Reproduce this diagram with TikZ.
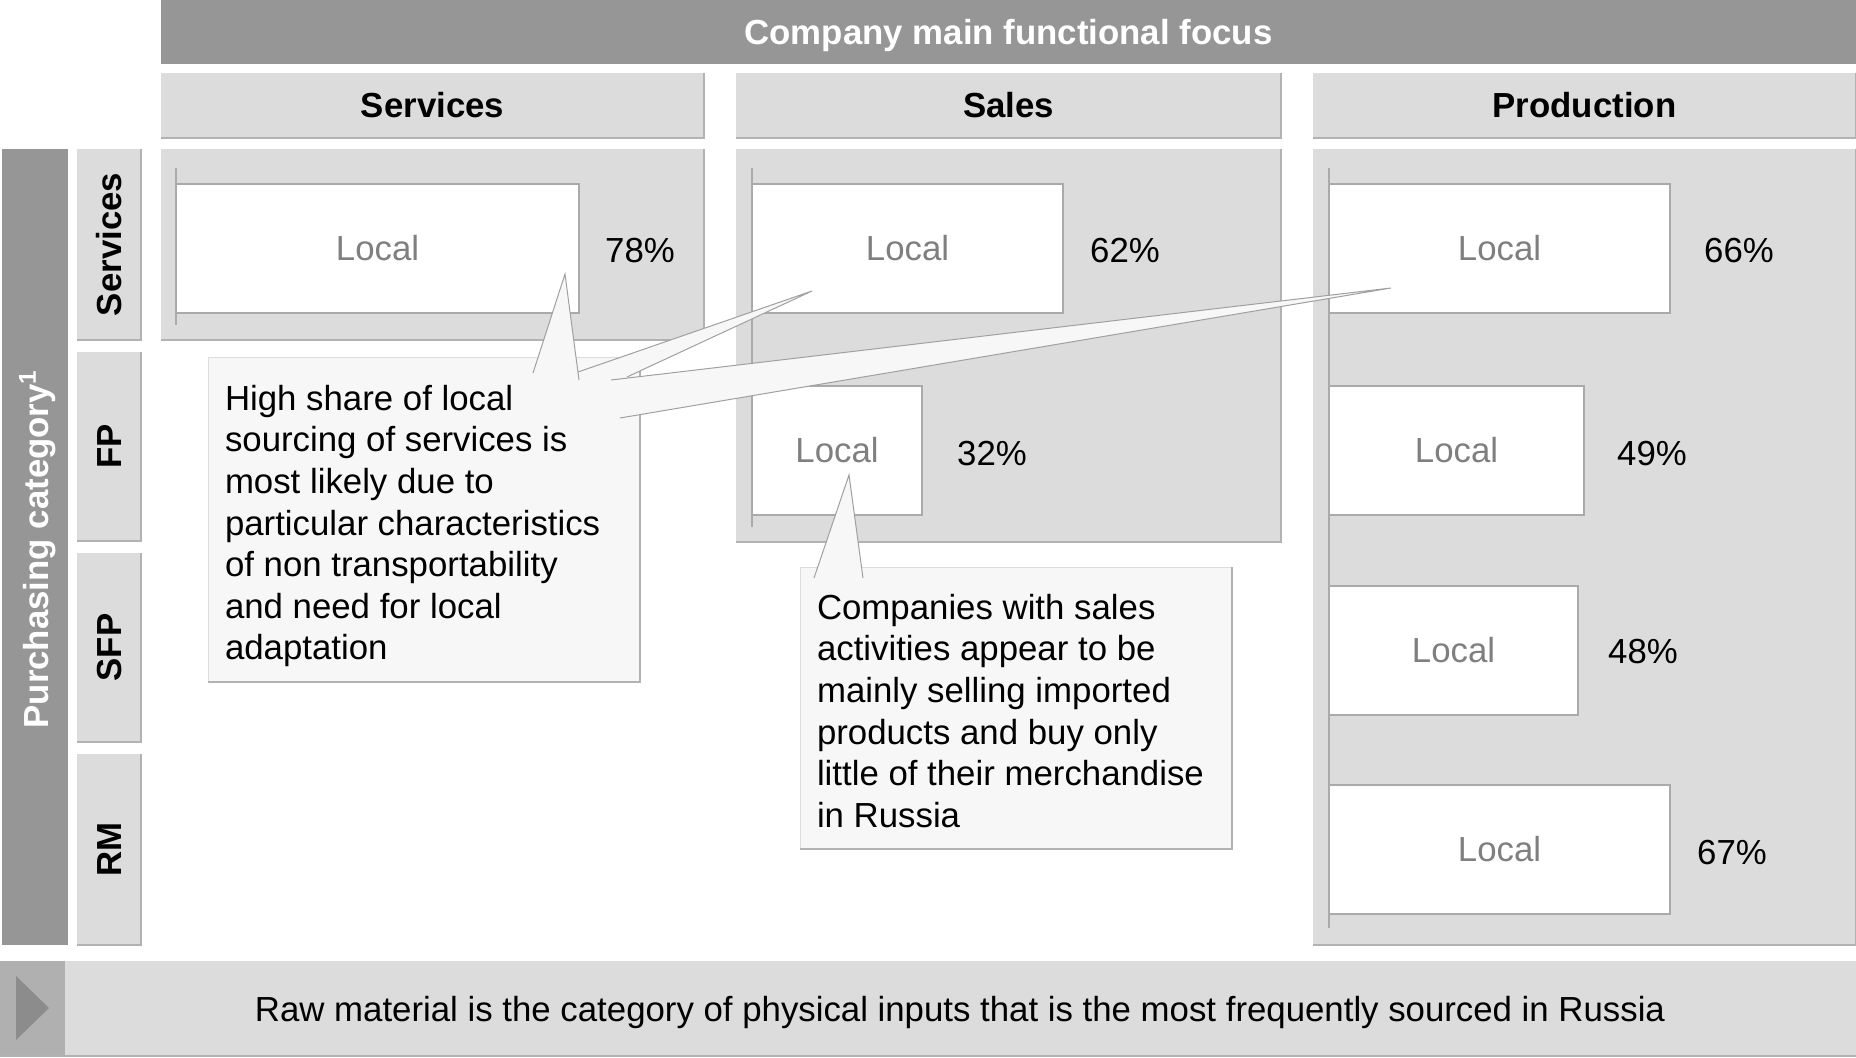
\documentclass[tikz,border=0pt]{standalone}
\usepackage{fontspec}
\setmainfont{Liberation Sans}
\definecolor{hdr}{HTML}{969696}
\definecolor{lgr}{HTML}{DCDCDC}
\definecolor{edgec}{HTML}{B2B2B2}
\definecolor{bord}{HTML}{AAAAAA}
\definecolor{callfill}{HTML}{F7F7F7}
\definecolor{loc}{HTML}{7F7F7F}
\definecolor{sqr}{HTML}{B0B0B0}
\definecolor{tri}{HTML}{8C8C8C}
\definecolor{wedgec}{HTML}{A0A0A0}
\newcommand\bx[7]{\node[#6, minimum width={(#4-#2)*0.5pt}, minimum height={(#5-#3)*0.5pt}] (#1) at ({(#2+#4)/2},{(#3+#5)/2}) {#7};}
\begin{document}
\begin{tikzpicture}[x=0.5pt,y=-0.5pt,
  font=\fontsize{17.4}{20.8}\selectfont,
  every node/.style={inner sep=0pt, outer sep=0pt},
  capc/.style={text height=12.4pt, text depth=0pt},
  hdrbox/.style={fill=hdr, text=white, capc, font=\fontsize{17.4}{20.8}\selectfont\bfseries},
  colbox/.style={fill=lgr, capc, font=\fontsize{17.4}{20.8}\selectfont\bfseries},
  greybox/.style={fill=lgr},
  barbox/.style={fill=white, draw=bord, line width=0.6pt, text=loc, capc},
  callbox/.style={fill=callfill, draw=lgr, line width=0.4pt},
  shadowline/.style={draw=edgec, line width=0.8pt},
  axisline/.style={draw=bord, line width=0.6pt},
  wedgeline/.style={draw=wedgec, line width=0.5pt},
  pct/.style={text=black, capc},
  vlabel/.style={rotate=90, capc, font=\fontsize{17.4}{20.8}\selectfont\bfseries}
]
\useasboundingbox (0,0) rectangle (1856,1058);

% top header
\bx{top}{161}{0}{1856}{64}{hdrbox}{Company main functional focus}
% column headers
\bx{chS}{161}{73}{704}{138}{colbox}{Services}
\bx{chA}{736}{73}{1281}{138}{colbox}{Sales}
\bx{chP}{1313}{73}{1856}{138}{colbox}{Production}

% left purchasing category bar
\bx{pc}{2}{149}{68}{945}{fill=hdr}{}
\node[vlabel, text=white] (pctext) at (36,549) {Purchasing category\textsuperscript{1}};

% row labels
\bx{rS}{77}{149}{141}{340}{greybox}{}
\bx{rF}{77}{352}{141}{541}{greybox}{}
\bx{rSF}{77}{553}{141}{742}{greybox}{}
\bx{rR}{77}{754}{141}{945}{greybox}{}
\node[vlabel] (rStext) at (rS) {Services};
\node[vlabel] (rFtext) at (rF) {FP};
\node[vlabel] (rSFtext) at (rSF) {SFP};
\node[vlabel] (rRtext) at (rR) {RM};

% data regions
\bx{dS}{161}{149}{704}{340}{greybox}{}
\bx{dA}{736}{149}{1281}{542}{greybox}{}
\bx{dP}{1313}{149}{1856}{945}{greybox}{}

% bottom bar
\bx{bot}{0}{961}{1856}{1056}{greybox}{}
\bx{botsq}{0}{961}{65}{1056}{fill=sqr}{}
\fill[tri] (16,976) -- (49,1008) -- (16,1040) -- cycle;
\node[capc] (bottext) at (960,1009) {Raw material is the category of physical inputs that is the most frequently sourced in Russia};

% shadow edges
\foreach \n in {chS,chA,chP,rS,rF,rSF,rR,dS,dA,dP}
  \draw[shadowline] (\n.south west) -- (\n.south east) -- (\n.north east);
\draw[shadowline] (bot.south west) -- (bot.south east);

% axis lines
\draw[axisline] (176,168) -- (176,325);
\draw[axisline] (752,168) -- (752,527);
\draw[axisline] (1329,168) -- (1329,928);

% bars
\bx{bSS}{176}{184}{579}{313}{barbox}{Local}
\bx{bAS}{752}{184}{1063}{313}{barbox}{Local}
\bx{bAF}{752}{386}{922}{515}{barbox}{Local}
\bx{bPS}{1329}{184}{1670}{313}{barbox}{Local}
\bx{bPF}{1329}{386}{1584}{515}{barbox}{Local}
\bx{bPSF}{1329}{586}{1578}{715}{barbox}{Local}
\bx{bPR}{1329}{785}{1670}{914}{barbox}{Local}

% percentages
\node[pct] (p1) at (640,250) {78\%};
\node[pct] (p2) at (1125,250) {62\%};
\node[pct] (p3) at (992,453) {32\%};
\node[pct] (p4) at (1739,250) {66\%};
\node[pct] (p5) at (1652,453) {49\%};
\node[pct] (p6) at (1643,651) {48\%};
\node[pct] (p7) at (1732,852) {67\%};

% callout boxes
\bx{co1}{208}{357}{640}{682}{callbox}{}
\bx{co2}{800}{567}{1232}{849}{callbox}{}
\draw[shadowline] (co1.south west) -- (co1.south east) -- (co1.north east);
\draw[shadowline] (co2.south west) -- (co2.south east) -- (co2.north east);

% wedge coordinates
\coordinate (w1a) at (533,373); \coordinate (w1b) at (579,380); \coordinate (w1t) at (565,274);
\coordinate (w2a) at (578,372); \coordinate (w2b) at (627,377); \coordinate (w2t) at (812,291);
\coordinate (w3a) at (611,380); \coordinate (w3b) at (620,418); \coordinate (w3t) at (1391,288);
\coordinate (w4a) at (814,578); \coordinate (w4b) at (863,578); \coordinate (w4t) at (849,475);
\foreach \w in {w1,w2,w3,w4}
  \fill[callfill] (\w a) -- (\w t) -- (\w b) -- cycle;
\foreach \w in {w1,w2,w3,w4}
  \draw[wedgeline] (\w a) -- (\w t) -- (\w b);

% callout texts
\node[anchor=north west, align=left] (c1text) at (225,385) {High share of local\\sourcing of services is\\most likely due to\\particular characteristics\\of non transportability\\and need for local\\adaptation};
\node[anchor=north west, align=left] (c2text) at (817,594) {Companies with sales\\activities appear to be\\mainly selling imported\\products and buy only\\little of their merchandise\\in Russia};
\end{tikzpicture}
\end{document}
